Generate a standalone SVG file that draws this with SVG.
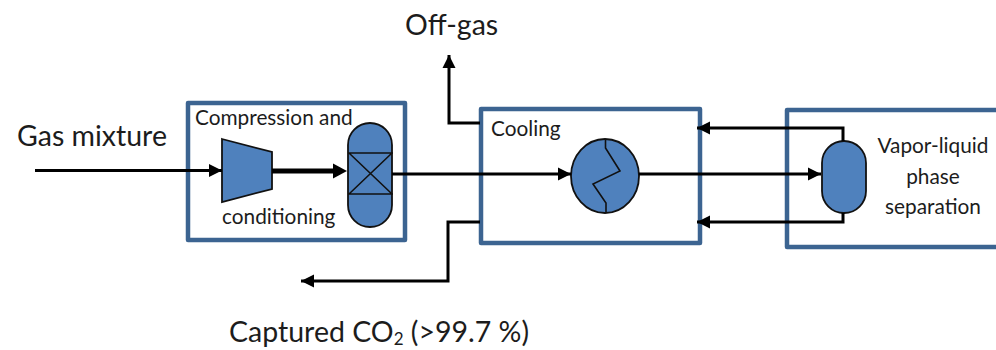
<svg xmlns="http://www.w3.org/2000/svg" width="996" height="350" viewBox="0 0 996 350">
<defs>
<marker id="ah" markerUnits="userSpaceOnUse" markerWidth="14" markerHeight="14" refX="13" refY="7" orient="auto"><path d="M0 0.500 L13 7 L0 13.500 Z" fill="#000"/></marker>
</defs>
<style>
.box{fill:#fff;stroke:#3c6491;stroke-width:4.500;stroke-linejoin:round}
.eq{fill:#4f81bd;stroke:#111;stroke-width:1.800}
.in{fill:none;stroke:#111;stroke-width:1.600}
.c{fill:none;stroke:#000;stroke-width:3;marker-end:url(#ah)}
text{font-family:"Lato","Liberation Sans",sans-serif;fill:#1c1c1c}
.big{font-size:28.500px}
.sm{font-size:20.800px}
</style>
<rect width="996" height="350" fill="#fff"/>
<g id="compression">
<rect class="box" x="188" y="103" width="217" height="137"/>
<text class="sm" x="195" y="125">Compression and</text>
<text class="sm" x="222" y="224">conditioning</text>
<polygon class="eq" points="222,139 272,152 272,189 222,202"/>
<rect class="eq" x="348" y="123" width="44" height="104" rx="22"/>
<path class="in" d="M348 153H393M348 194H393M349 153L392 194M392 153L349 194"/>
</g>
<g id="cooling">
<rect class="box" x="481" y="109" width="219" height="134"/>
<text class="sm" x="491" y="136" font-size="20">Cooling</text>
<ellipse class="eq" cx="605" cy="176" rx="34" ry="37"/>
<path class="in" d="M605.500 139V148L620 171L593 184L606 203V213"/>
</g>
<g id="separation">
<path class="box" d="M998 110H787V247H998"/>
<rect class="eq" x="822" y="141" width="44" height="72" rx="22"/>
<text class="sm" text-anchor="middle" x="933" y="153">Vapor-liquid</text>
<text class="sm" text-anchor="middle" x="933" y="184">phase</text>
<text class="sm" text-anchor="middle" x="933" y="214">separation</text>
</g>
<g id="connectors">
<path class="c" d="M35 170.500H222"/>
<path d="M272 171H335" stroke="#000" stroke-width="5" fill="none"/>
<path d="M333 163.500L347 171L333 178.500Z" fill="#000"/>
<path class="c" d="M392 174H571"/>
<path class="c" d="M639 174H821"/>
<path class="c" d="M843 141V128H697"/>
<path class="c" d="M843 213V222H697"/>
<path class="c" d="M480 123H449V55"/>
<path class="c" d="M480 222H448V281H301"/>
</g>
<g id="labels">
<text class="big" x="17" y="146">Gas mixture</text>
<text class="big" x="405" y="35">Off-gas</text>
<text class="big" x="229" y="342">Captured CO<tspan font-size="17" dy="3">2</tspan><tspan dy="-3"> (&gt;99.7 %)</tspan></text>
</g>
</svg>
